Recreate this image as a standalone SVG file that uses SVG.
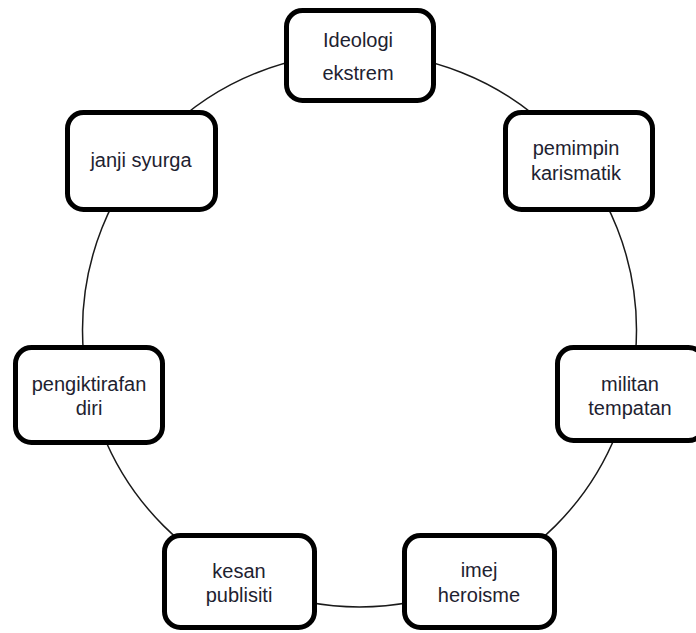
<svg xmlns="http://www.w3.org/2000/svg" width="696" height="633" viewBox="0 0 696 633">
<style>
.box{fill:#fff;stroke:#000;stroke-width:5}
.lbl{font-family:"Liberation Sans",Arial,sans-serif;font-size:20px;fill:#1e2230;text-anchor:middle}
.ring{fill:none;stroke:#1a1a1a;stroke-width:1.5}
</style>
<rect width="696" height="633" fill="#fff"/>
<g id="connectors">
<circle class="ring" cx="359.5" cy="330" r="277"/>
</g>
<g id="node-ideologi">
<rect class="box" x="286.5" y="10.5" width="147" height="90" rx="16"/>
<text class="lbl" x="358" y="47">Ideologi</text>
<text class="lbl" x="358" y="80">ekstrem</text>
</g>
<g id="node-pemimpin">
<rect class="box" x="505.5" y="112.5" width="147" height="97" rx="16"/>
<text class="lbl" x="576" y="155">pemimpin</text>
<text class="lbl" x="576" y="180">karismatik</text>
</g>
<g id="node-militan">
<rect class="box" x="557.5" y="347.5" width="147" height="93" rx="16"/>
<text class="lbl" x="630" y="391">militan</text>
<text class="lbl" x="630" y="415">tempatan</text>
</g>
<g id="node-imej">
<rect class="box" x="404.5" y="535.5" width="150" height="92" rx="16"/>
<text class="lbl" x="479" y="577">imej</text>
<text class="lbl" x="479" y="602">heroisme</text>
</g>
<g id="node-kesan">
<rect class="box" x="164.5" y="535.5" width="150" height="92" rx="16"/>
<text class="lbl" x="239" y="578">kesan</text>
<text class="lbl" x="239" y="602">publisiti</text>
</g>
<g id="node-pengiktirafan">
<rect class="box" x="15.5" y="347.5" width="147" height="95" rx="16"/>
<text class="lbl" x="89" y="391">pengiktirafan</text>
<text class="lbl" x="89" y="415">diri</text>
</g>
<g id="node-janji">
<rect class="box" x="67.5" y="112.5" width="148" height="97" rx="16"/>
<text class="lbl" x="141" y="167">janji syurga</text>
</g>
</svg>
